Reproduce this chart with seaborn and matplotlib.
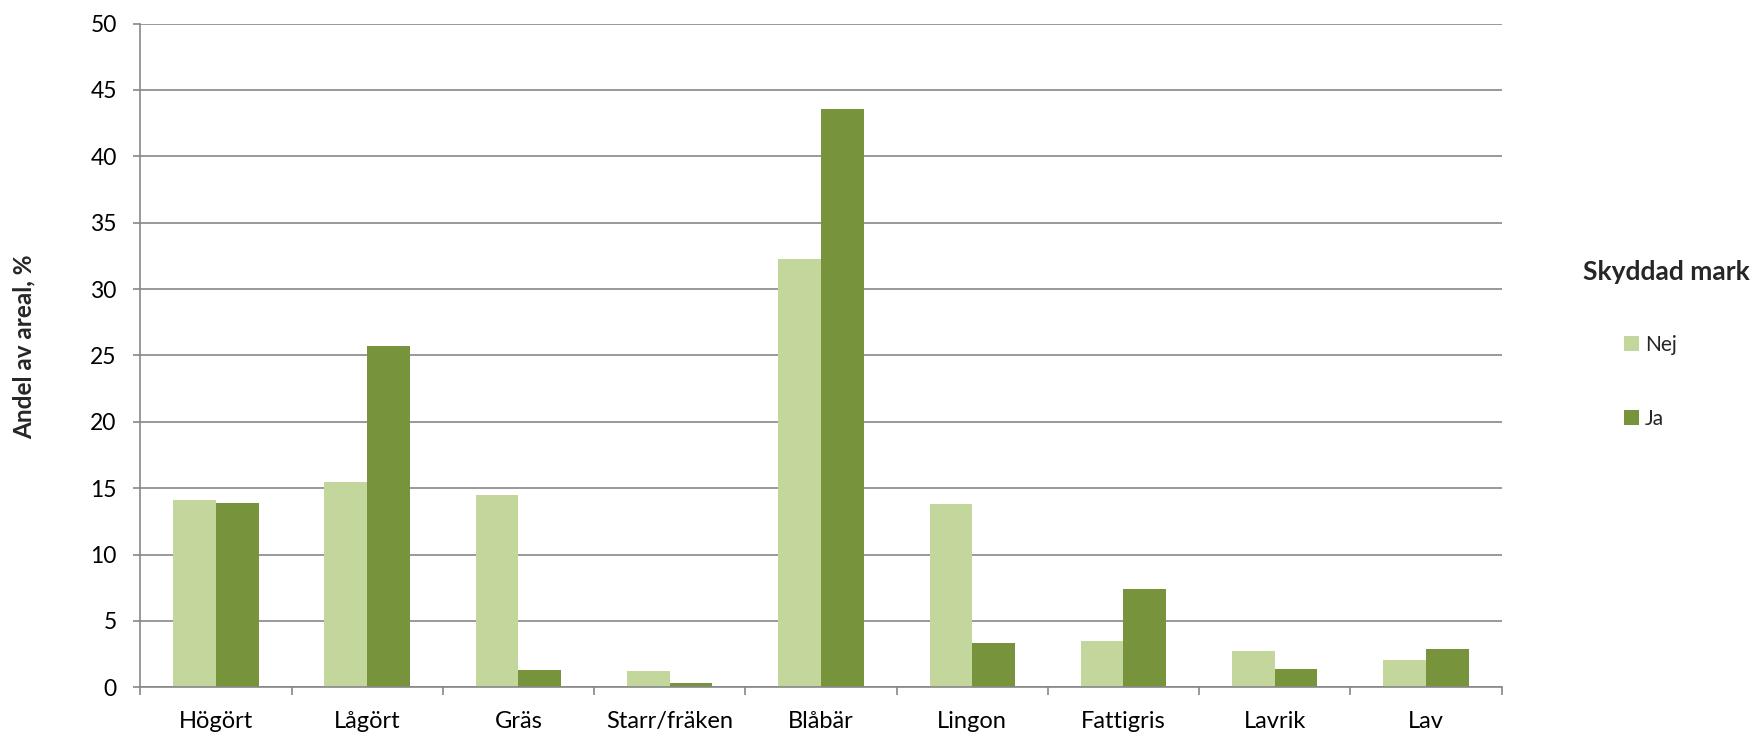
import matplotlib
matplotlib.use("Agg")
import matplotlib.pyplot as plt
import seaborn as sns
import pandas as pd
from matplotlib.patches import Patch
from matplotlib.ticker import FixedLocator

categories = ["Högört", "Lågört", "Gräs", "Starr/fräken", "Blåbär", "Lingon", "Fattigris", "Lavrik", "Lav"]
nej = [14.1, 15.5, 14.5, 1.2, 32.3, 13.8, 3.45, 2.7, 2.05]
ja = [13.85, 25.7, 1.3, 0.3, 43.6, 3.3, 7.4, 1.4, 2.85]
series = ["Nej", "Ja"]
colors = {"Nej": "#C3D69B", "Ja": "#77933C"}
yticks = [0, 5, 10, 15, 20, 25, 30, 35, 40, 45, 50]

df = pd.DataFrame({
    "Kategori": categories * 2,
    "Andel": nej + ja,
    "Skyddad mark": ["Nej"] * len(categories) + ["Ja"] * len(categories),
})

sns.set_theme(style="white")
plt.rcParams["font.family"] = ["Lato", "DejaVu Sans"]

W, H = 1761, 736
fig = plt.figure(figsize=(W / 100, H / 100), dpi=100)
ax = fig.add_axes([0.0797, 0.0662, 0.8527 - 0.0797, 0.968 - 0.0662])

sns.barplot(data=df, x="Kategori", y="Andel", hue="Skyddad mark", hue_order=series,
            order=categories, palette=colors, width=0.565, gap=0, linewidth=0,
            saturation=1, ax=ax, legend=False)

grid_c = "#878787"
ax.set_ylim(0, 50)
ax.set_xlim(-0.5, len(categories) - 0.5)
ax.set_yticks(yticks)
ax.yaxis.grid(True, color=grid_c, linewidth=1.2)
ax.set_axisbelow(True)
for s in ["top", "right"]:
    ax.spines[s].set_visible(False)
for s in ["left", "bottom"]:
    ax.spines[s].set_color(grid_c)
    ax.spines[s].set_linewidth(1.2)

ax.tick_params(axis="y", which="major", left=True, length=5, width=1.2, color=grid_c,
               labelsize=16.5, labelcolor="black", pad=12)
ax.tick_params(axis="x", which="major", bottom=False, labelsize=17, labelcolor="black", pad=11)
ax.xaxis.set_minor_locator(FixedLocator([i - 0.5 for i in range(len(categories) + 1)]))
ax.tick_params(axis="x", which="minor", bottom=True, length=6, width=1.2, color=grid_c)

ax.set_xlabel("")
ax.set_ylabel("Andel av areal, %", fontsize=17.5, fontweight="bold")
ax.yaxis.set_label_coords(-0.0772, 0.513)

fig.text(1666 / W, 1 - 272 / H, "Skyddad mark", ha="center", va="center",
         fontsize=19, fontweight="bold")
handles = [Patch(facecolor=colors[s], edgecolor="none", label=s) for s in series]
fig.legend(handles=handles, loc="center left",
           bbox_to_anchor=(1624 / W, 1 - 382 / H), frameon=False, fontsize=15,
           borderpad=0, borderaxespad=0,
           labelspacing=2.6, handlelength=0.72, handleheight=0.72,
           handletextpad=0.3)

fig.savefig("out.png", dpi=100)
